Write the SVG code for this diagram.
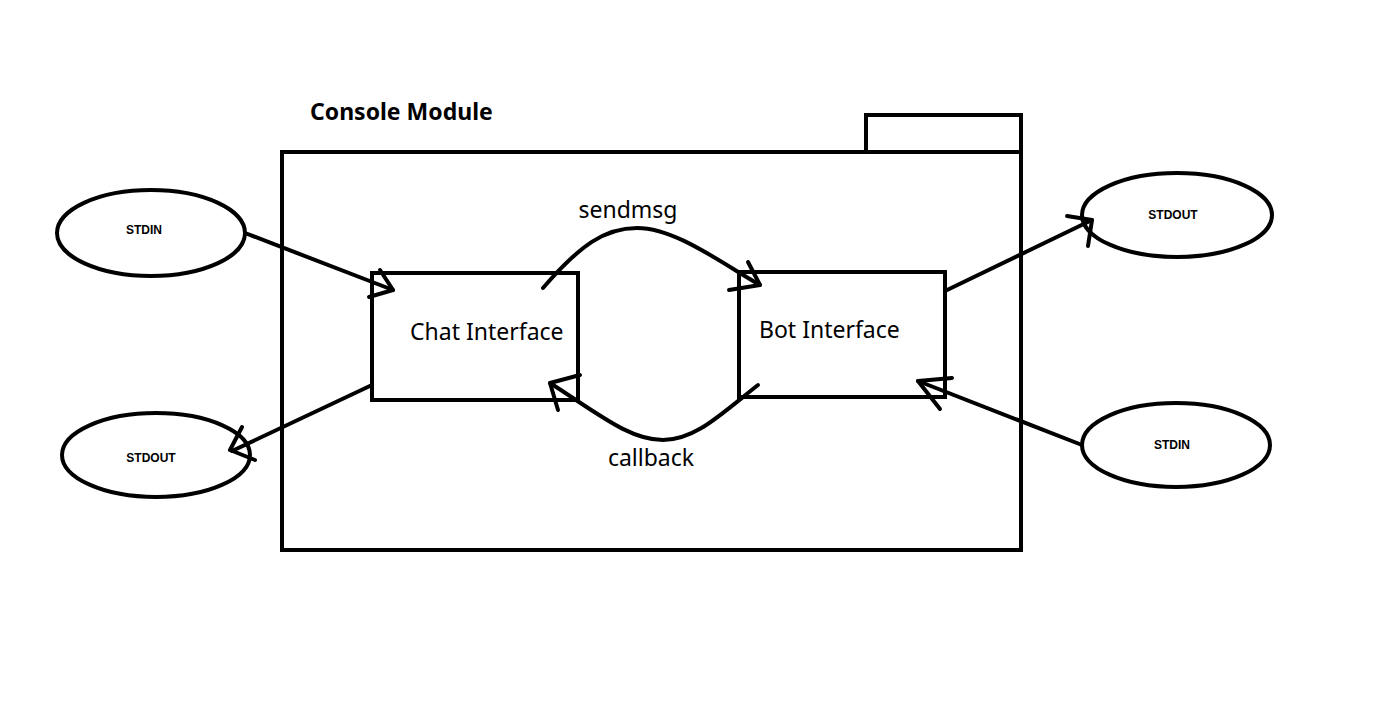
<svg xmlns="http://www.w3.org/2000/svg" width="1396" height="711" viewBox="0 0 1396 711">
<style>
.s{fill:none;stroke:#000;stroke-width:4;stroke-linecap:round;stroke-linejoin:round}
.b{fill:#fff;stroke:#000;stroke-width:4}
.lbl{font-family:"Noto Sans","Open Sans",sans-serif;font-size:23px;fill:#000}
.io{font-family:"Liberation Sans",Arial,sans-serif;font-size:12px;font-weight:bold;fill:#000;text-anchor:middle}
.title{font-family:"Noto Sans","Open Sans",sans-serif;font-size:23px;font-weight:bold;fill:#000}
</style>
<rect width="1396" height="711" fill="#fff"/>
<g id="console-module">
<rect x="866" y="115" width="155" height="37" class="b"/>
<rect x="282" y="152" width="739" height="398" class="b"/>
<text x="310" y="120" class="title">Console Module</text>
</g>
<g id="chat-interface">
<rect x="372" y="273" width="206" height="127" class="b"/>
<text x="410" y="340" class="lbl">Chat Interface</text>
</g>
<g id="bot-interface">
<rect x="739" y="272" width="206" height="125" class="b"/>
<text x="759" y="338" class="lbl">Bot Interface</text>
</g>
<g id="stdin-left">
<ellipse cx="151" cy="233" rx="94" ry="43" class="b"/>
<text x="144" y="234" class="io">STDIN</text>
</g>
<g id="stdout-left">
<ellipse cx="156" cy="455" rx="94" ry="42" class="b"/>
<text x="151" y="462" class="io">STDOUT</text>
</g>
<g id="stdout-right">
<ellipse cx="1177" cy="215" rx="95" ry="42" class="b"/>
<text x="1173" y="219" class="io">STDOUT</text>
</g>
<g id="stdin-right">
<ellipse cx="1176" cy="445" rx="94" ry="42" class="b"/>
<text x="1172" y="449" class="io">STDIN</text>
</g>
<g id="connectors">
<line x1="245" y1="233" x2="393" y2="290" class="s"/>
<polyline points="380,270 393,290 369,297" class="s"/>
<line x1="372" y1="385" x2="232" y2="451" class="s"/>
<polyline points="242,427 230,450 255,460" class="s"/>
<line x1="945" y1="291" x2="1092" y2="220" class="s"/>
<polyline points="1067,216 1092,220 1088,246" class="s"/>
<line x1="1082" y1="445" x2="918" y2="381" class="s"/>
<polyline points="952,378 918,381 940,409" class="s"/>
<path d="M543,288 C580,245 605,228 637,228 C675,228 720,262 760,285" class="s"/>
<polyline points="748,262 760,285 729,290" class="s"/>
<text x="628" y="218" class="lbl" text-anchor="middle">sendmsg</text>
<path d="M758,385 C720,415 695,440 663,440 C630,440 600,415 550,383" class="s"/>
<polyline points="580,375 550,383 558,410" class="s"/>
<text x="651" y="466" class="lbl" text-anchor="middle">callback</text>
</g>
</svg>
